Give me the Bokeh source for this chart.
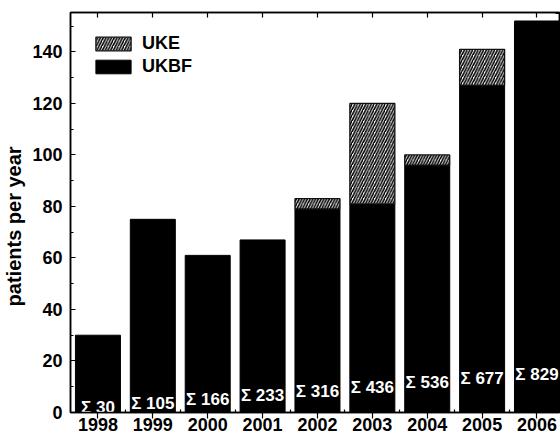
from bokeh.plotting import figure
from bokeh.models import (Range1d, LinearAxis, FixedTicker, ColumnDataSource,
                          Legend, LegendItem)
from bokeh.core.properties import value
from bokeh.embed import file_html
from bokeh.resources import INLINE

# ---- data ----
years = [1998, 1999, 2000, 2001, 2002, 2003, 2004, 2005, 2006]
ukbf = [30, 75, 61, 67, 79, 81, 96, 127, 152]
uke = [0, 0, 0, 0, 4, 39, 4, 14, 0]
cumulative = [30, 105, 166, 233, 316, 436, 536, 677, 829]
y_ticks = [0, 20, 40, 60, 80, 100, 120, 140]

FONT = "Liberation Sans"
BAR_W = 0.82

p = figure(width=560, height=435, output_backend="svg", toolbar_location=None,
           x_range=Range1d(1997.5, 2006.41), y_range=Range1d(0, 155.3),
           min_border_left=68, min_border_right=1, min_border_top=12,
           min_border_bottom=23, x_axis_location=None, y_axis_location=None)
p.xgrid.visible = False
p.ygrid.visible = False
p.outline_line_color = "black"
p.outline_line_width = 1.5
p.background_fill_color = "white"
p.border_fill_color = "white"

src_b = ColumnDataSource(dict(x=years, top=ukbf))
rb = p.vbar(x="x", top="top", bottom=0, width=BAR_W, source=src_b,
            fill_color="black", line_color="black", line_width=1)

ex = [y for y, e in zip(years, uke) if e > 0]
eb = [b for b, e in zip(ukbf, uke) if e > 0]
et = [b + e for b, e in zip(ukbf, uke) if e > 0]
src_e = ColumnDataSource(dict(x=ex, bottom=eb, top=et))
re_ = p.vbar(x="x", top="top", bottom="bottom", width=BAR_W, source=src_e,
             fill_color="white", line_color="#111111", line_width=1.3,
             hatch_pattern="/", hatch_color="black", hatch_scale=5.5,
             hatch_weight=1.6)

labels = ["\u03a3 %d" % c for c in cumulative]
offs = [-(5 + 4.1 * i) for i in range(len(years))]
src_t = ColumnDataSource(dict(x=years, y=[0] * len(years), text=labels, off=offs))
p.text(x="x", y="y", text="text", y_offset="off", source=src_t,
       text_color="white", text_font=value(FONT), text_font_style="bold",
       text_font_size="17px", text_align="center", text_baseline="alphabetic")

def style(ax):
    ax.axis_line_width = 1.5
    ax.axis_line_color = "black"
    ax.major_tick_line_color = "black"
    ax.minor_tick_line_color = "black"
    ax.major_tick_line_width = 1.2
    ax.minor_tick_line_width = 1.2
    ax.major_label_text_font = FONT
    ax.major_label_text_font_style = "bold"
    ax.major_label_text_color = "black"

def blank_labels(ax, ticks):
    ax.major_label_overrides = {t: "" for t in ticks}
    ax.major_label_standoff = 0
    ax.major_label_text_font_size = "1px"

halves = [y + 0.5 for y in years[:-1]]
xb = LinearAxis(ticker=FixedTicker(ticks=years, minor_ticks=halves))
style(xb)
xb.major_tick_in = 0
xb.major_tick_out = 6
xb.minor_tick_in = 3
xb.minor_tick_out = 0
xb.major_label_standoff = -1
xb.major_label_text_font_size = "18px"
p.add_layout(xb, "below")

xt = LinearAxis(ticker=FixedTicker(ticks=years, minor_ticks=[]))
style(xt)
xt.major_tick_in = 5
xt.major_tick_out = 0
blank_labels(xt, years)
p.add_layout(xt, "above")

minor_y = [v + 10 for v in y_ticks]
yl = LinearAxis(ticker=FixedTicker(ticks=y_ticks, minor_ticks=minor_y))
style(yl)
yl.major_tick_in = 5
yl.major_tick_out = 0
yl.minor_tick_in = 3
yl.minor_tick_out = 0
yl.major_label_standoff = 8
yl.major_label_text_font_size = "18px"
yl.axis_label = "patients per year" + "\u00a0" * 5
yl.axis_label_text_font = FONT
yl.axis_label_text_font_style = "bold"
yl.axis_label_text_font_size = "20px"
yl.axis_label_text_color = "black"
yl.axis_label_standoff = 4
p.add_layout(yl, "left")

right_ticks = list(range(0, 901, 100))
p.extra_y_ranges = {"cum": Range1d(0, 903)}
yr = LinearAxis(y_range_name="cum",
                ticker=FixedTicker(ticks=right_ticks, minor_ticks=[]))
style(yr)
yr.major_tick_in = 4
yr.major_tick_out = 0
blank_labels(yr, right_ticks)
p.add_layout(yr, "right")

legend = Legend(items=[LegendItem(label="UKE", renderers=[re_]),
                       LegendItem(label="UKBF", renderers=[rb])],
                location="top_left", margin=21, padding=6, spacing=2,
                glyph_width=44, glyph_height=17, label_standoff=7,
                label_text_font=FONT, label_text_font_style="bold",
                label_text_font_size="18px", label_text_color="black",
                label_height=17,
                border_line_color=None, background_fill_alpha=0)
p.add_layout(legend, "center")

open("out.html", "w").write(file_html(p, INLINE))
